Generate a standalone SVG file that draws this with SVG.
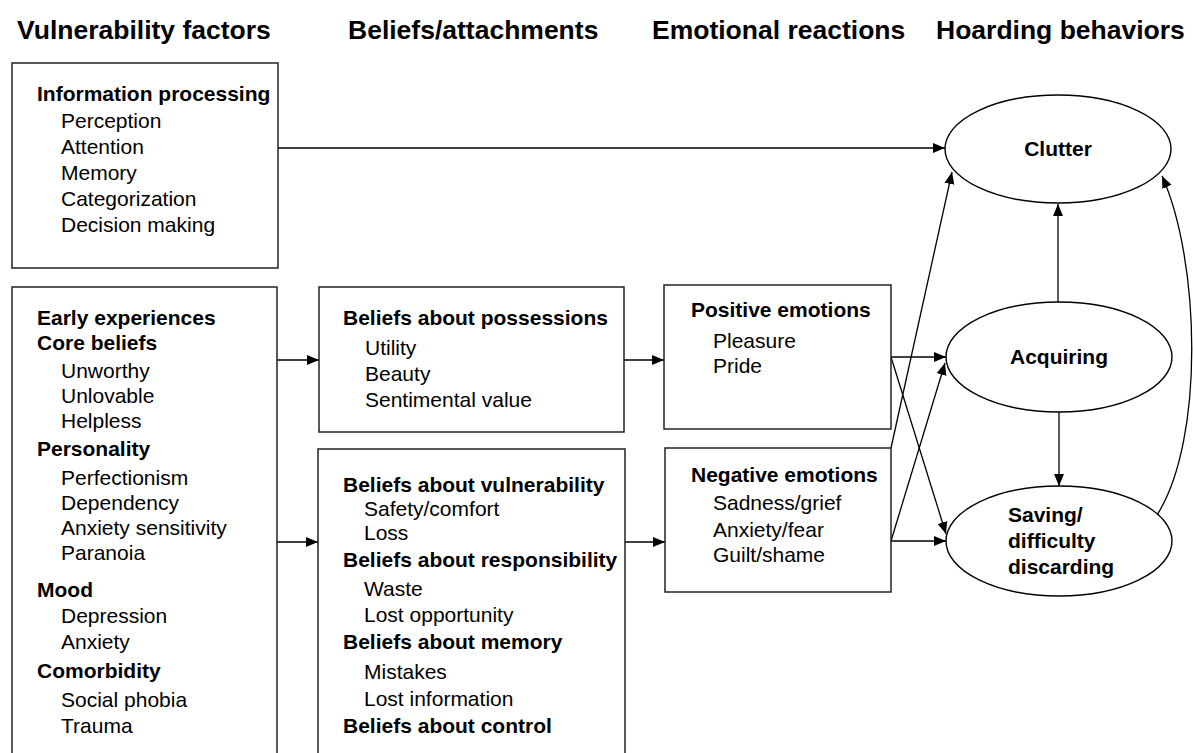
<svg xmlns="http://www.w3.org/2000/svg" width="1193" height="753" viewBox="0 0 1193 753">
<defs>
<marker id="ah" markerUnits="userSpaceOnUse" markerWidth="13" markerHeight="11" refX="12" refY="5.5" orient="auto">
<path d="M0,0.5 L12,5.5 L0,10.5 Z" fill="#000"/>
</marker>
<style>
text{font-family:"Liberation Sans",Arial,sans-serif;fill:#000}
.h{font-size:26.5px;font-weight:bold}
.b{font-size:21px;font-weight:bold}
.t{font-size:21px}
.box{fill:#fff;stroke:#222;stroke-width:1.5}
.el{fill:#fff;stroke:#000;stroke-width:1.4}
.c{fill:none;stroke:#000;stroke-width:1.3;marker-end:url(#ah)}
</style>
</defs>
<rect width="1193" height="753" fill="#fff"/>
<g id="headers">
<text class="h" x="17" y="39">Vulnerability factors</text>
<text class="h" x="348" y="39">Beliefs/attachments</text>
<text class="h" x="652" y="39">Emotional reactions</text>
<text class="h" x="936" y="39">Hoarding behaviors</text>
</g>
<g id="connectors">
<line class="c" x1="278" y1="148" x2="945" y2="148"/>
<line class="c" x1="277" y1="360" x2="319" y2="360"/>
<line class="c" x1="277" y1="542" x2="318" y2="542"/>
<line class="c" x1="624" y1="360" x2="664" y2="360"/>
<line class="c" x1="625" y1="542" x2="665" y2="542"/>
<line class="c" x1="891" y1="357" x2="946" y2="357"/>
<line class="c" x1="891" y1="541" x2="946" y2="541"/>
<line class="c" x1="891" y1="357" x2="946" y2="534"/>
<line class="c" x1="891" y1="541" x2="945" y2="363"/>
<line class="c" x1="891" y1="448" x2="952" y2="172"/>
<line class="c" x1="1058" y1="302" x2="1058" y2="204"/>
<line class="c" x1="1059" y1="412" x2="1059" y2="486"/>
<path class="c" d="M1157,515 C1205,440 1200,260 1162,176"/>
</g>
<g id="info-processing">
<rect class="box" x="12" y="63" width="266" height="205"/>
<text class="b" x="37" y="101">Information processing</text>
<text class="t" x="61" y="128">Perception</text>
<text class="t" x="61" y="154">Attention</text>
<text class="t" x="61" y="180">Memory</text>
<text class="t" x="61" y="206">Categorization</text>
<text class="t" x="61" y="232">Decision making</text>
</g>
<g id="early-experiences">
<rect class="box" x="12" y="287" width="265" height="480"/>
<text class="b" x="37" y="325">Early experiences</text>
<text class="b" x="37" y="350">Core beliefs</text>
<text class="t" x="61" y="378">Unworthy</text>
<text class="t" x="61" y="403">Unlovable</text>
<text class="t" x="61" y="428">Helpless</text>
<text class="b" x="37" y="456">Personality</text>
<text class="t" x="61" y="485">Perfectionism</text>
<text class="t" x="61" y="510">Dependency</text>
<text class="t" x="61" y="535">Anxiety sensitivity</text>
<text class="t" x="61" y="560">Paranoia</text>
<text class="b" x="37" y="597">Mood</text>
<text class="t" x="61" y="623">Depression</text>
<text class="t" x="61" y="649">Anxiety</text>
<text class="b" x="37" y="678">Comorbidity</text>
<text class="t" x="61" y="707">Social phobia</text>
<text class="t" x="61" y="733">Trauma</text>
</g>
<g id="beliefs-possessions">
<rect class="box" x="319" y="287" width="305" height="145"/>
<text class="b" x="343" y="325">Beliefs about possessions</text>
<text class="t" x="365" y="355">Utility</text>
<text class="t" x="365" y="381">Beauty</text>
<text class="t" x="365" y="407">Sentimental value</text>
</g>
<g id="beliefs-vulnerability">
<rect class="box" x="318" y="449" width="307" height="320"/>
<text class="b" x="343" y="492">Beliefs about vulnerability</text>
<text class="t" x="364" y="516">Safety/comfort</text>
<text class="t" x="364" y="540">Loss</text>
<text class="b" x="343" y="567">Beliefs about responsibility</text>
<text class="t" x="364" y="596">Waste</text>
<text class="t" x="364" y="622">Lost opportunity</text>
<text class="b" x="343" y="649">Beliefs about memory</text>
<text class="t" x="364" y="679">Mistakes</text>
<text class="t" x="364" y="706">Lost information</text>
<text class="b" x="343" y="733">Beliefs about control</text>
</g>
<g id="positive-emotions">
<rect class="box" x="664" y="285" width="227" height="144"/>
<text class="b" x="691" y="317">Positive emotions</text>
<text class="t" x="713" y="348">Pleasure</text>
<text class="t" x="713" y="373">Pride</text>
</g>
<g id="negative-emotions">
<rect class="box" x="665" y="448" width="226" height="144"/>
<text class="b" x="691" y="482">Negative emotions</text>
<text class="t" x="713" y="510">Sadness/grief</text>
<text class="t" x="713" y="537">Anxiety/fear</text>
<text class="t" x="713" y="562">Guilt/shame</text>
</g>
<g id="clutter">
<ellipse class="el" cx="1058" cy="149" rx="113" ry="54"/>
<text class="b" x="1058" y="156" text-anchor="middle">Clutter</text>
</g>
<g id="acquiring">
<ellipse class="el" cx="1059" cy="357" rx="113" ry="55"/>
<text class="b" x="1059" y="364" text-anchor="middle">Acquiring</text>
</g>
<g id="saving">
<ellipse class="el" cx="1059" cy="541" rx="113" ry="55"/>
<text class="b" x="1008" y="522">Saving/</text>
<text class="b" x="1008" y="548">difficulty</text>
<text class="b" x="1008" y="574">discarding</text>
</g>
</svg>
